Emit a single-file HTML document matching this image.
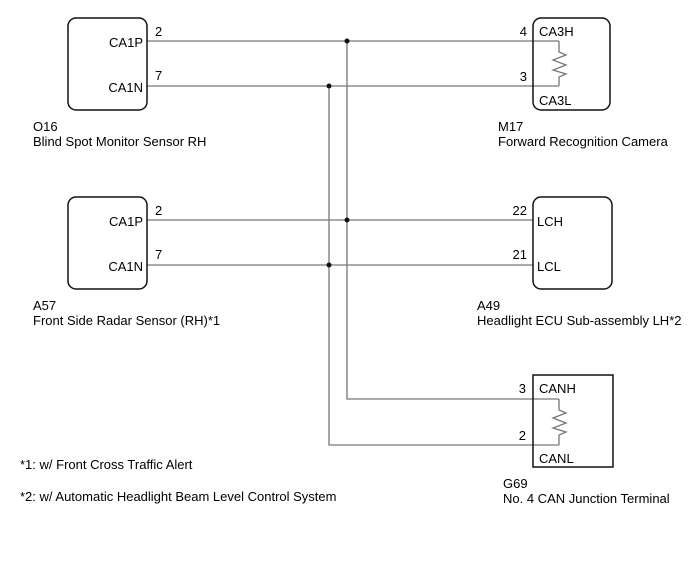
<!DOCTYPE html>
<html><head><style>body{margin:0;background:#fff}svg text{font-family:"Liberation Sans",sans-serif;font-size:13px;fill:#000}</style></head><body>
<svg width="688" height="560" xmlns="http://www.w3.org/2000/svg">
<g fill="none" stroke="#777" stroke-width="1.3">
<path d="M147 41H559M147 86H559M147 220H533M147 265H533"/>
<path d="M347 41V399H559M329 86V445H559"/>
<path d="M559 41V52L566 55L553 60L566 65L553 70L566 74L559 77V86"/>
<path d="M559 399V410L566 413L553 418L566 423L553 428L566 432L559 435V445"/>
</g>
<g fill="none" stroke="#111" stroke-width="1.5">
<rect x="68" y="18" width="79" height="92" rx="8"/>
<rect x="533" y="18" width="77" height="92" rx="8"/>
<rect x="68" y="197" width="79" height="92" rx="8"/>
<rect x="533" y="197" width="79" height="92" rx="8"/>
<rect x="533" y="375" width="80" height="92"/>
</g>
<g fill="#111"><circle cx="347" cy="41" r="2.5"/><circle cx="329" cy="86" r="2.5"/><circle cx="347" cy="220" r="2.5"/><circle cx="329" cy="265" r="2.5"/></g>
<text x="143" y="47" text-anchor="end">CA1P</text><text x="143" y="92" text-anchor="end">CA1N</text>
<text x="155" y="36">2</text><text x="155" y="80">7</text>
<text x="143" y="226" text-anchor="end">CA1P</text><text x="143" y="271" text-anchor="end">CA1N</text>
<text x="155" y="215">2</text><text x="155" y="259">7</text>
<text x="527" y="36" text-anchor="end">4</text><text x="527" y="81" text-anchor="end">3</text>
<text x="539" y="36">CA3H</text><text x="539" y="105">CA3L</text>
<text x="527" y="215" text-anchor="end">22</text><text x="527" y="259" text-anchor="end">21</text>
<text x="537" y="226">LCH</text><text x="537" y="271">LCL</text>
<text x="526" y="393" text-anchor="end">3</text><text x="526" y="440" text-anchor="end">2</text>
<text x="539" y="393">CANH</text><text x="539" y="463">CANL</text>
<text x="33" y="131">O16</text><text x="33" y="146">Blind Spot Monitor Sensor RH</text>
<text x="498" y="131">M17</text><text x="498" y="146">Forward Recognition Camera</text>
<text x="33" y="310">A57</text><text x="33" y="325">Front Side Radar Sensor (RH)*1</text>
<text x="477" y="310">A49</text><text x="477" y="325">Headlight ECU Sub-assembly LH*2</text>
<text x="503" y="488">G69</text><text x="503" y="503">No. 4 CAN Junction Terminal</text>
<text x="20" y="469">*1: w/ Front Cross Traffic Alert</text>
<text x="20" y="501">*2: w/ Automatic Headlight Beam Level Control System</text>
</svg></body></html>
